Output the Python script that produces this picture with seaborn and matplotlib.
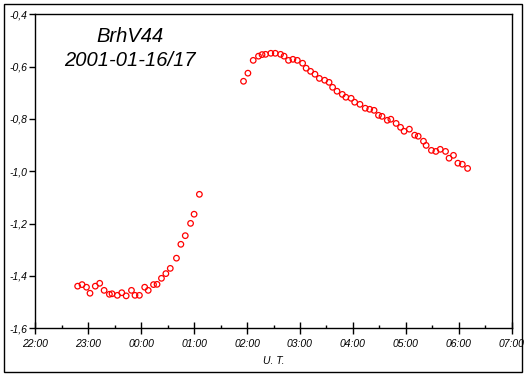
import matplotlib
matplotlib.use("Agg")
import matplotlib.pyplot as plt
import matplotlib.dates as mdates
from matplotlib.patches import Rectangle
from matplotlib.ticker import FuncFormatter
import pandas as pd
import seaborn as sns

# UT times (evening of 2001-01-16 and early morning of 2001-01-17) and magnitudes
times_1 = ["22:48", "22:53", "22:58", "23:02", "23:08", "23:13", "23:18", "23:24", "23:27", "23:33",
           "23:38", "23:43", "23:49", "23:53", "23:58", "00:04", "00:08", "00:14", "00:18", "00:23",
           "00:28", "00:33", "00:40", "00:45", "00:50", "00:56", "01:00", "01:06"]
mag_1 = [-1.439, -1.433, -1.443, -1.466, -1.439, -1.428, -1.455, -1.470, -1.468, -1.474,
         -1.464, -1.476, -1.455, -1.474, -1.474, -1.443, -1.455, -1.433, -1.432, -1.409,
         -1.391, -1.371, -1.332, -1.279, -1.246, -1.199, -1.164, -1.088]

times_2 = ["01:56", "02:01", "02:07", "02:13", "02:17", "02:21", "02:27", "02:32", "02:38", "02:42",
           "02:47", "02:52", "02:57", "03:03", "03:07", "03:12", "03:17", "03:22", "03:28", "03:33",
           "03:37", "03:42", "03:48", "03:52", "03:58", "04:02", "04:08", "04:14", "04:19", "04:24",
           "04:29", "04:33", "04:39", "04:43", "04:49", "04:54", "04:58", "05:04", "05:10", "05:14",
           "05:20", "05:23", "05:29", "05:34", "05:39", "05:45", "05:49", "05:54", "05:59", "06:04",
           "06:10"]
mag_2 = [-0.656, -0.625, -0.576, -0.560, -0.554, -0.553, -0.549, -0.549, -0.553, -0.560,
         -0.576, -0.572, -0.576, -0.587, -0.606, -0.618, -0.629, -0.645, -0.652, -0.660,
         -0.679, -0.694, -0.706, -0.717, -0.721, -0.736, -0.744, -0.759, -0.763, -0.767,
         -0.786, -0.790, -0.805, -0.801, -0.817, -0.832, -0.847, -0.839, -0.862, -0.866,
         -0.885, -0.901, -0.920, -0.924, -0.916, -0.924, -0.950, -0.939, -0.969, -0.973,
         -0.989]


def to_datetime(hhmm):
    t = pd.Timestamp("2001-01-16 " + hhmm)
    if t.hour < 12:
        t += pd.Timedelta(days=1)
    return t


df = pd.DataFrame({
    "ut": [to_datetime(t) for t in times_1 + times_2],
    "mag": mag_1 + mag_2,
})

sns.set_style("ticks")
plt.rcParams["font.family"] = ["Liberation Sans", "DejaVu Sans"]
plt.rcParams.update({"text.color": "black", "axes.labelcolor": "black",
                     "xtick.color": "black", "ytick.color": "black"})

W, H = 531, 378
fig = plt.figure(figsize=(W / 100, H / 100), dpi=100)
ax = fig.add_axes([35.3 / W, 1 - 328.3 / H, (511.7 - 35.3) / W, (328.3 - 14.3) / H])

sns.scatterplot(data=df, x="ut", y="mag", ax=ax, marker="o", s=16,
                facecolor="none", edgecolor="red", linewidth=0.9)

ax.set_xlim(pd.Timestamp("2001-01-16 22:00"), pd.Timestamp("2001-01-17 07:00"))
ax.set_ylim(-1.6, -0.4)
ax.xaxis.set_major_locator(mdates.HourLocator())
ax.xaxis.set_minor_locator(mdates.MinuteLocator(byminute=30))
ax.xaxis.set_major_formatter(mdates.DateFormatter("%H:%M"))
ax.set_yticks([-1.6, -1.4, -1.2, -1.0, -0.8, -0.6, -0.4])
ax.yaxis.set_major_formatter(FuncFormatter(lambda v, p: f"{v:.1f}".replace(".", ",")))

for lbl in ax.get_xticklabels() + ax.get_yticklabels():
    lbl.set_fontstyle("italic")
    lbl.set_fontsize(7.5)
    lbl.set_color("black")

ax.tick_params(axis="x", which="major", direction="inout", length=8, width=1, pad=4)
ax.tick_params(axis="x", which="minor", direction="in", length=2, width=1)
ax.tick_params(axis="y", which="major", direction="out", length=4, width=1, pad=2)
for sp in ax.spines.values():
    sp.set_linewidth(1)
    sp.set_color("black")

ax.set_xlabel("U. T.", fontstyle="italic", fontsize=7.5, labelpad=5, color="black")
ax.set_ylabel("")

fig.text(130 / W, 1 - 36 / H, "BrhV44", fontsize=14.5, fontstyle="italic",
         ha="center", va="center", color="black")
fig.text(130 / W, 1 - 61 / H, "2001-01-16/17", fontsize=14.5, fontstyle="italic",
         ha="center", va="center", color="black")

fig.patches.append(Rectangle((4.3 / W, 1 - 372.3 / H), (521.7 - 4.3) / W, (372.3 - 4.3) / H,
                             transform=fig.transFigure, fill=False, lw=1, ec="black"))

fig.savefig("out.png", dpi=100)
